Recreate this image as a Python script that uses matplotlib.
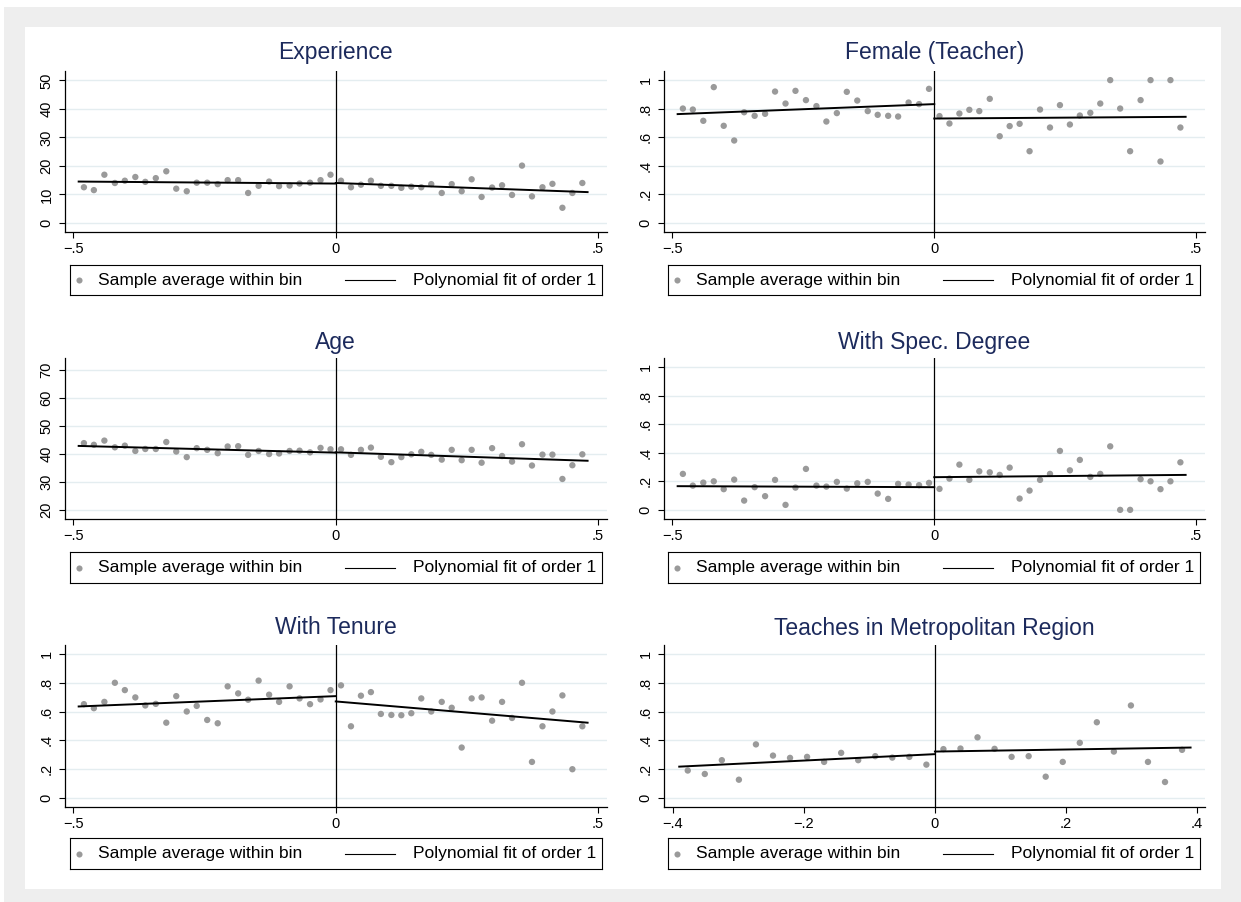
import matplotlib.pyplot as plt
from matplotlib.patches import Rectangle
from matplotlib.lines import Line2D

plt.rcParams['font.family'] = ['Liberation Sans', 'DejaVu Sans']

# bin centres (same running variable for the first five outcomes)
bins_left = [-0.480, -0.461, -0.441, -0.421, -0.402, -0.382, -0.363, -0.343,
             -0.323, -0.304, -0.284, -0.265, -0.245, -0.225, -0.206, -0.186,
             -0.167, -0.147, -0.127, -0.108, -0.088, -0.069, -0.049, -0.029,
             -0.010]
bins_right = [0.010, 0.029, 0.048, 0.067, 0.086, 0.106, 0.125, 0.144, 0.163,
              0.182, 0.202, 0.221, 0.240, 0.259, 0.278, 0.298, 0.317, 0.336,
              0.355, 0.374, 0.394, 0.413, 0.432, 0.451, 0.470]
metro_bins_left = [-0.377, -0.351, -0.325, -0.299, -0.273, -0.247, -0.221,
                   -0.195, -0.169, -0.143, -0.117, -0.091, -0.065, -0.039,
                   -0.013]
metro_bins_right = [0.013, 0.039, 0.065, 0.091, 0.117, 0.143, 0.169, 0.195,
                    0.221, 0.247, 0.273, 0.299, 0.325, 0.351, 0.377]

exp_left = [12.5, 11.5, 16.9, 14.0, 14.8, 16.1, 14.4, 15.7, 18.1, 12.0, 11.1,
            14.1, 14.1, 13.6, 15.0, 15.0, 10.5, 13.0, 14.5, 12.9, 13.1, 13.8,
            14.1, 15.0, 16.9]
exp_right = [14.8, 12.5, 13.4, 14.8, 13.0, 13.0, 12.3, 12.7, 12.5, 13.6, 10.5,
             13.6, 11.1, 15.3, 9.1, 12.4, 13.2, 9.8, 20.1, 9.3, 12.5, 13.7,
             5.3, 10.5, 14.0]
exp_fit_left = [14.5, 13.8]
exp_fit_right = [14.0, 10.8]

female_left = [0.801, 0.794, 0.715, 0.951, 0.680, 0.577, 0.775, 0.750, 0.764,
               0.920, 0.836, 0.925, 0.860, 0.818, 0.710, 0.769, 0.918, 0.857,
               0.783, 0.757, 0.750, 0.745, 0.843, 0.832, 0.939]
female_right = [0.748, 0.696, 0.766, 0.792, 0.783, 0.869, 0.607, 0.678, 0.694,
                0.502, 0.794, 0.668, 0.825, 0.689, 0.752, 0.771, 0.836, 1.0,
                0.801, 0.502, 0.860, 1.0, 0.430, 1.0, 0.668]
female_fit_left = [0.762, 0.832]
female_fit_right = [0.731, 0.743]

age_left = [43.9, 43.3, 44.8, 42.4, 43.0, 41.1, 41.8, 41.8, 44.3, 40.9, 38.9,
            42.1, 41.5, 40.3, 42.7, 42.8, 39.7, 41.1, 40.0, 40.2, 41.1, 41.2,
            40.6, 42.2, 41.7]
age_right = [41.7, 39.7, 41.5, 42.3, 39.0, 37.1, 38.9, 39.9, 40.8, 39.7, 38.0,
             41.5, 37.8, 41.5, 36.9, 42.1, 39.3, 37.3, 43.5, 35.9, 39.8, 39.8,
             31.1, 36.0, 39.9]
age_fit_left = [42.9, 40.5]
age_fit_right = [40.6, 37.6]

spec_left = [0.252, 0.170, 0.191, 0.200, 0.145, 0.212, 0.065, 0.159, 0.096,
             0.210, 0.035, 0.156, 0.287, 0.170, 0.163, 0.196, 0.149, 0.186,
             0.196, 0.114, 0.077, 0.182, 0.177, 0.173, 0.189]
spec_right = [0.147, 0.219, 0.317, 0.210, 0.270, 0.263, 0.245, 0.296, 0.079,
              0.135, 0.210, 0.252, 0.413, 0.277, 0.350, 0.231, 0.252, 0.445,
              0.0, 0.0, 0.215, 0.200, 0.145, 0.200, 0.333]
spec_fit_left = [0.166, 0.159]
spec_fit_right = [0.229, 0.245]

tenure_left = [0.652, 0.624, 0.668, 0.801, 0.750, 0.699, 0.643, 0.654, 0.523,
               0.708, 0.601, 0.640, 0.542, 0.519, 0.776, 0.727, 0.683, 0.816,
               0.718, 0.668, 0.776, 0.692, 0.652, 0.685, 0.750]
tenure_right = [0.783, 0.498, 0.711, 0.736, 0.584, 0.577, 0.575, 0.589, 0.692,
                0.601, 0.668, 0.627, 0.350, 0.692, 0.699, 0.537, 0.668, 0.556,
                0.801, 0.250, 0.498, 0.601, 0.713, 0.199, 0.498]
tenure_fit_left = [0.636, 0.708]
tenure_fit_right = [0.671, 0.523]

metro_left = [0.190, 0.166, 0.262, 0.126, 0.372, 0.294, 0.278, 0.285, 0.250,
              0.313, 0.262, 0.290, 0.280, 0.285, 0.231]
metro_right = [0.339, 0.343, 0.421, 0.341, 0.285, 0.290, 0.147, 0.250, 0.383,
               0.526, 0.322, 0.643, 0.250, 0.110, 0.334]
metro_fit_left = [0.217, 0.304]
metro_fit_right = [0.322, 0.350]

# fitted lines run over the support on each side of the cutoff
fit_x_left = [-0.49, 0.0]
fit_x_right = [0.0, 0.48]
metro_fit_x_left = [-0.39, 0.0]
metro_fit_x_right = [0.0, 0.39]

x_ticks = [-0.5, 0, 0.5]
x_ticklabels = ['\u2212.5', '0', '.5']
metro_x_ticks = [-0.4, -0.2, 0, 0.2, 0.4]
metro_x_ticklabels = ['\u2212.4', '\u2212.2', '0', '.2', '.4']
share_ticks = [0, 0.2, 0.4, 0.6, 0.8, 1]
share_ticklabels = ['0', '.2', '.4', '.6', '.8', '1']
exp_ticks = [0, 10, 20, 30, 40, 50]
age_ticks = [20, 30, 40, 50, 60, 70]

W, H = 1241, 902
TITLE_COLOR = '#1c2a5c'
DOT_COLOR = '#9a9a9a'
GRID_COLOR = '#e4edf0'

# pixel layout of the 3x2 grid
COL_X = [(64.5, 607), (663.5, 1205)]
ROW_Y = [(71, 232), (358, 519), (645, 807)]
TITLE_Y = [53, 342, 628]
LEG_X = [(70, 602), (668, 1200)]
LEG_Y = [(265, 295), (552, 583), (838, 869)]


def px_rect(x0, y0, x1, y1):
    return [x0 / W, 1 - y1 / H, (x1 - x0) / W, (y1 - y0) / H]


fig = plt.figure(figsize=(W / 100, H / 100), dpi=100)
fig.patch.set_facecolor('white')
fig.add_artist(Rectangle((4 / W, 0), 1, 1 - 7 / H, transform=fig.transFigure,
                         facecolor='#eeeeee', edgecolor='none', zorder=-3))
inner = px_rect(24.5, 27, 1221, 889)
fig.add_artist(Rectangle(inner[:2], inner[2], inner[3],
                         transform=fig.transFigure, facecolor='white',
                         edgecolor='none', zorder=-2))


def add_legend(col, row):
    lx0, lx1 = LEG_X[col]
    ly0, ly1 = LEG_Y[row]
    lax = fig.add_axes(px_rect(lx0, ly0, lx1, ly1))
    lax.set_xlim(0, lx1 - lx0)
    lax.set_ylim(0, 1)
    lax.set_xticks([])
    lax.set_yticks([])
    for s in lax.spines.values():
        s.set_linewidth(0.8)
        s.set_color('black')
    lax.plot([8.5], [0.5], 'o', color=DOT_COLOR, markersize=4.4, mec='none')
    lax.text(28, 0.5, 'Sample average within bin', va='center', ha='left',
             fontsize=12.5)
    lax.add_line(Line2D([275, 325], [0.5, 0.5], color='black', lw=0.8))
    lax.text(343, 0.5, 'Polynomial fit of order 1', va='center', ha='left',
             fontsize=12.5)


def rd_panel(col, row, title, xl, yl, xr, yr, fxl, fyl, fxr, fyr,
             xticks, xlabels, yticks, ylabels, xlim, ylim):
    x0, x1 = COL_X[col]
    y0, y1 = ROW_Y[row]
    ax = fig.add_axes(px_rect(x0, y0, x1, y1))
    ax.set_facecolor('white')
    ax.scatter(xl, yl, s=21, color=DOT_COLOR, edgecolors='none', zorder=3)
    ax.scatter(xr, yr, s=21, color=DOT_COLOR, edgecolors='none', zorder=3)
    ax.plot(fxl, fyl, color='black', lw=1.4, zorder=4)
    ax.plot(fxr, fyr, color='black', lw=1.4, zorder=4)
    ax.axvline(0, color='black', lw=0.9, zorder=2)

    ax.set_xlim(*xlim)
    ax.set_ylim(*ylim)
    ax.set_xticks(xticks)
    ax.set_xticklabels(xlabels)
    ax.set_yticks(yticks)
    ax.set_yticklabels(ylabels, rotation=90, va='center')
    ax.yaxis.grid(True, color=GRID_COLOR, lw=1.0)
    ax.set_axisbelow(True)
    ax.tick_params(direction='out', length=4, width=0.8, labelsize=10.5,
                   pad=3, color='black')
    ax.tick_params(axis='y', pad=4)
    for side in ('top', 'right'):
        ax.spines[side].set_visible(False)
    for side in ('left', 'bottom'):
        ax.spines[side].set_linewidth(0.9)

    fig.text((x0 + x1) / 2 / W, 1 - TITLE_Y[row] / H, title, ha='center',
             va='center', fontsize=16.5, color=TITLE_COLOR)
    add_legend(col, row)


XLIM = (-0.517, 0.517)
SHARE_YLIM = (-0.064, 1.064)

rd_panel(0, 0, 'Experience', bins_left, exp_left, bins_right, exp_right,
         fit_x_left, exp_fit_left, fit_x_right, exp_fit_right,
         x_ticks, x_ticklabels, exp_ticks, [str(t) for t in exp_ticks],
         XLIM, (-3.2, 53.3))
rd_panel(1, 0, 'Female (Teacher)', bins_left, female_left, bins_right,
         female_right, fit_x_left, female_fit_left, fit_x_right,
         female_fit_right, x_ticks, x_ticklabels, share_ticks,
         share_ticklabels, XLIM, SHARE_YLIM)
rd_panel(0, 1, 'Age', bins_left, age_left, bins_right, age_right,
         fit_x_left, age_fit_left, fit_x_right, age_fit_right,
         x_ticks, x_ticklabels, age_ticks, [str(t) for t in age_ticks],
         XLIM, (16.8, 74.3))
rd_panel(1, 1, 'With Spec. Degree', bins_left, spec_left, bins_right,
         spec_right, fit_x_left, spec_fit_left, fit_x_right, spec_fit_right,
         x_ticks, x_ticklabels, share_ticks, share_ticklabels, XLIM,
         SHARE_YLIM)
rd_panel(0, 2, 'With Tenure', bins_left, tenure_left, bins_right,
         tenure_right, fit_x_left, tenure_fit_left, fit_x_right,
         tenure_fit_right, x_ticks, x_ticklabels, share_ticks,
         share_ticklabels, XLIM, SHARE_YLIM)
rd_panel(1, 2, 'Teaches in Metropolitan Region', metro_bins_left, metro_left,
         metro_bins_right, metro_right, metro_fit_x_left, metro_fit_left,
         metro_fit_x_right, metro_fit_right, metro_x_ticks,
         metro_x_ticklabels, share_ticks, share_ticklabels,
         (-0.414, 0.412), SHARE_YLIM)

fig.savefig('out.png', dpi=100, facecolor=fig.get_facecolor())
